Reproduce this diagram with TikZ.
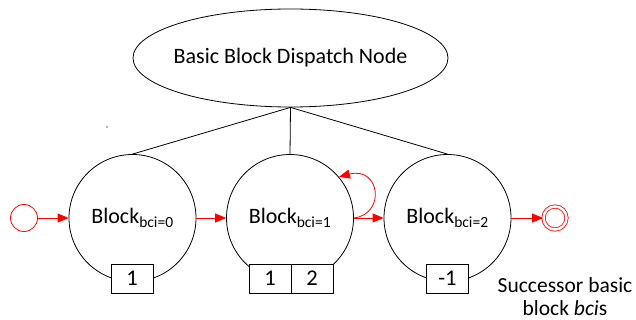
\documentclass[tikz,border=0pt]{standalone}
\usepackage{fontspec}
\setmainfont{Carlito}
\usetikzlibrary{arrows.meta,shapes.geometric}
\begin{document}
\begin{tikzpicture}[x=1pt,y=-1pt,
  blk/.style={circle,draw,line width=0.8pt,minimum size=127pt,inner sep=0pt,font=\fontsize{22}{26}\selectfont},
  cell/.style={draw,line width=0.8pt,fill=white,minimum width=42pt,minimum height=29pt,inner sep=0pt,font=\fontsize{22.5}{26}\selectfont},
  flow/.style={draw=red,line width=0.8pt,-{Triangle[length=11pt,width=9pt]},red},
  link/.style={draw,line width=0.8pt}]
\useasboundingbox (0,0) rectangle (636,320);

% dispatch node
\node[ellipse,draw,line width=0.8pt,minimum width=315pt,minimum height=98pt,inner xsep=-40pt,inner ysep=0pt,
  font=\fontsize{22}{26}\selectfont] (disp) at (290.5,58) {Basic Block Dispatch Node};

% basic blocks
\node[blk] (b0) at (132.5,218) {Block\textsubscript{\fontsize{15.5}{18}\selectfont bci=0}};
\node[blk] (b1) at (290,218) {Block\textsubscript{\fontsize{15.5}{18}\selectfont bci=1}};
\node[blk] (b2) at (447.5,218) {Block\textsubscript{\fontsize{15.5}{18}\selectfont bci=2}};

% successor cells
\node[cell] (s0) at (132,278.5) {1};
\node[cell] (s1a) at (270,278.5) {1};
\node[cell] (s1b) at (312,278.5) {2};
\node[cell] (s2) at (447.5,278.5) {-1};

% tree links
\draw[link] (disp.south) -- (b0.north);
\draw[link] (disp.south) -- (b1.north);
\draw[link] (disp.south) -- (b2.north);

% start and end states
\node[circle,draw=red,line width=0.8pt,minimum size=27pt,inner sep=0pt] (start) at (24,218) {};
\node[circle,draw=red,line width=0.8pt,double=white,double distance=2.5pt,minimum size=23pt,inner sep=0pt] (stop) at (555,218) {};

% control flow
\draw[flow] (start.east) -- (b0.west);
\draw[flow] (b0.east) -- (b1.west);
\draw[flow] (b1.east) -- (b2.west);
\draw[flow] (b2.east) -- (stop.west);
\draw[flow] (b1.east) .. controls (386,214) and (380,166) .. (b1.40);

% caption
\node[align=center,font=\fontsize{21.5}{23}\selectfont,anchor=north,inner sep=0pt] (cap) at (565,277)
  {Successor basic\\block \textit{bci}s};

% stray mark
\fill[black!60] (107,127) circle (0.8pt);
\end{tikzpicture}
\end{document}
